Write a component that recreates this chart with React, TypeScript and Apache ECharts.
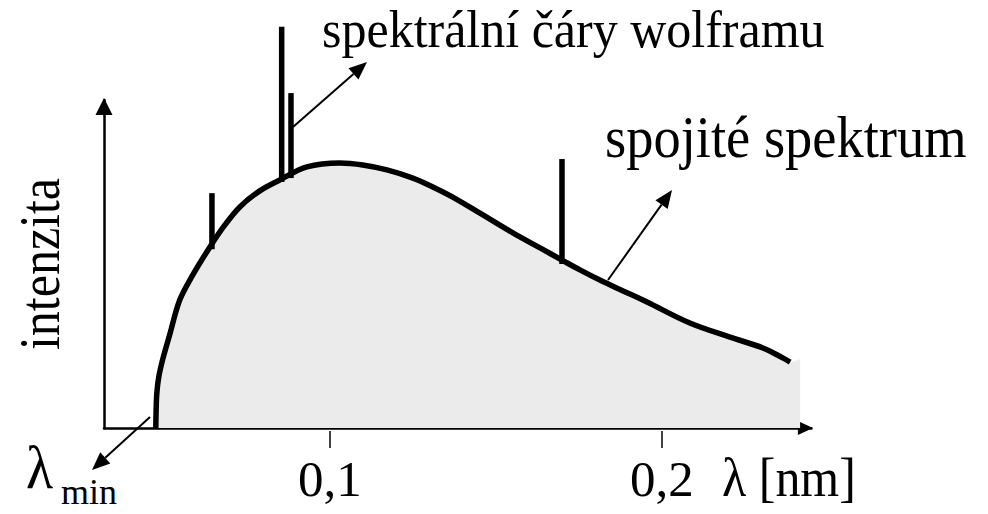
import React, { useEffect, useRef } from "react";
import * as echarts from "echarts";

// Continuous (bremsstrahlung) spectrum: wavelength [nm] vs. relative intensity
const continuumLambda = [
  0.0476, 0.0477, 0.0479, 0.0485, 0.0497, 0.0518, 0.0548, 0.0587, 0.0639,
  0.0684, 0.0729, 0.0789, 0.0849, 0.0931, 0.103, 0.1099, 0.1172, 0.125,
  0.131, 0.137, 0.1452, 0.1551, 0.1633, 0.1699, 0.1753, 0.1813, 0.1883,
  0.1955, 0.2084, 0.2205, 0.2304, 0.2365, 0.2386,
];
const continuumIntensity = [
  0, 5.5, 10.5, 15.6, 21.0, 28.5, 39.0, 46.6, 55.2, 61.9, 67.4, 72.3, 75.6,
  79.6, 80.8, 80.2, 78.7, 76.2, 73.5, 70.4, 65.5, 59.5, 54.9, 51.2, 48.2,
  45.1, 41.8, 38.4, 32.0, 27.7, 24.4, 21.3, 20.1,
];
// The shaded area runs a little past the end of the drawn curve
const shadeEndLambda = 0.2416;
const shadeEndIntensity = 21.0;

// Tungsten characteristic lines: position, foot (on the continuum) and top
const lineLambda = [0.0645, 0.0855, 0.0883, 0.1699];
const lineFoot = [54.5, 75.0, 76.2, 50.0];
const lineTop = [71.6, 122.3, 102.1, 82.0];

const tickValues = [0.1, 0.2];

const SERIF = "'Liberation Serif', 'Times New Roman', serif";

function arrow(x1: number, y1: number, x2: number, y2: number, headLen = 18, headW = 15) {
  const len = Math.hypot(x2 - x1, y2 - y1);
  const ux = (x2 - x1) / len;
  const uy = (y2 - y1) / len;
  const bx = x2 - ux * headLen;
  const by = y2 - uy * headLen;
  const nx = -uy;
  const ny = ux;
  return [
    {
      type: "line",
      shape: { x1, y1, x2: bx, y2: by },
      style: { stroke: "#000", lineWidth: 2 },
    },
    {
      type: "polygon",
      shape: {
        points: [
          [x2, y2],
          [bx + (nx * headW) / 2, by + (ny * headW) / 2],
          [bx - (nx * headW) / 2, by - (ny * headW) / 2],
        ],
      },
      style: { fill: "#000" },
    },
  ];
}

export default function App() {
  const ref = useRef<HTMLDivElement>(null);

  useEffect(() => {
    if (!ref.current) return;
    const chart = echarts.init(ref.current, null, { renderer: "svg" });

    const curve = continuumLambda.map((l, i) => [l, continuumIntensity[i]]);
    const shade = [...curve, [shadeEndLambda, shadeEndIntensity]];

    const spectralSeries = lineLambda.map((l, i) => ({
      type: "line",
      name: "spektrální čára " + (i + 1),
      data: [
        [l, lineFoot[i]],
        [l, lineTop[i]],
      ],
      symbol: "none",
      clip: false,
      lineStyle: { color: "#000", width: 5.5, cap: "butt" },
      z: 4,
    }));

    const baseAxis = {
      type: "value",
      min: 0.032,
      max: 0.245,
      splitLine: { show: false },
    };

    chart.setOption({
      animation: false,
      backgroundColor: "#fff",
      grid: { left: 104, right: 176.6, top: 100, bottom: 86 },
      xAxis: [
        {
          ...baseAxis,
          axisLine: {
            show: true,
            symbol: ["none", "triangle"],
            symbolSize: [14, 15],
            symbolOffset: [0, -6],
            lineStyle: { color: "#000", width: 2.5 },
          },
          axisTick: { show: false },
          axisLabel: { show: false },
        },
        {
          ...baseAxis,
          position: "bottom",
          offset: 3,
          axisLine: { show: false },
          axisTick: {
            show: true,
            customValues: tickValues,
            length: 17,
            lineStyle: { color: "#000", width: 1.5 },
          },
          axisLabel: {
            show: true,
            customValues: tickValues,
            formatter: (v: number) => v.toFixed(1).replace(".", ","),
            fontSize: 51,
            fontFamily: SERIF,
            color: "#000",
            margin: 22,
          },
        },
      ],
      yAxis: {
        type: "value",
        min: 0,
        max: 100,
        splitLine: { show: false },
        axisTick: { show: false },
        axisLabel: { show: false },
        axisLine: {
          show: true,
          symbol: ["none", "triangle"],
          symbolSize: [17, 17],
          symbolOffset: [0, -6.5],
          lineStyle: { color: "#000", width: 2.5 },
        },
      },
      series: [
        {
          type: "line",
          name: "plocha",
          data: shade,
          smooth: 0.35,
          symbol: "none",
          lineStyle: { width: 0 },
          areaStyle: { color: "#ebebeb", opacity: 1 },
          z: 1,
        },
        {
          type: "line",
          name: "spojité spektrum",
          data: curve,
          smooth: 0.35,
          symbol: "none",
          lineStyle: { color: "#000", width: 5.5 },
          z: 3,
        },
        ...spectralSeries,
      ],
      graphic: [
        {
          type: "text",
          x: 322,
          y: 29,
          scaleY: 1.06,
          style: {
            text: "spektrální čáry wolframu",
            font: `50px ${SERIF}`,
            fill: "#000",
            align: "left",
            verticalAlign: "middle",
          },
        },
        {
          type: "text",
          x: 605,
          y: 137,
          scaleY: 1.1,
          style: {
            text: "spojité spektrum",
            font: `54.5px ${SERIF}`,
            fill: "#000",
            align: "left",
            verticalAlign: "middle",
          },
        },
        {
          type: "text",
          x: 40,
          y: 264,
          rotation: Math.PI / 2,
          scaleY: 1.12,
          style: {
            text: "intenzita",
            font: `50px ${SERIF}`,
            fill: "#000",
            align: "center",
            verticalAlign: "middle",
          },
        },
        {
          type: "text",
          x: 722,
          y: 477,
          scaleY: 1.1,
          style: {
            text: "λ [nm]",
            font: `50px ${SERIF}`,
            fill: "#000",
            align: "left",
            verticalAlign: "middle",
          },
        },
        {
          type: "text",
          x: 26,
          y: 468,
          scaleY: 1.1,
          style: {
            text: "λ",
            font: `56px ${SERIF}`,
            fill: "#000",
            align: "left",
            verticalAlign: "middle",
          },
        },
        {
          type: "text",
          x: 61,
          y: 492,
          style: {
            text: "min",
            font: `36px ${SERIF}`,
            fill: "#000",
            align: "left",
            verticalAlign: "middle",
          },
        },
        ...arrow(150, 417, 92, 470),
        ...arrow(293, 127, 367, 62),
        ...arrow(608, 280, 672, 190),
      ],
    });

    return () => chart.dispose();
  }, []);

  return (
    <div
      ref={ref}
      style={{ position: "absolute", left: 0, top: 0, width: 988, height: 514, background: "#fff" }}
    />
  );
}
